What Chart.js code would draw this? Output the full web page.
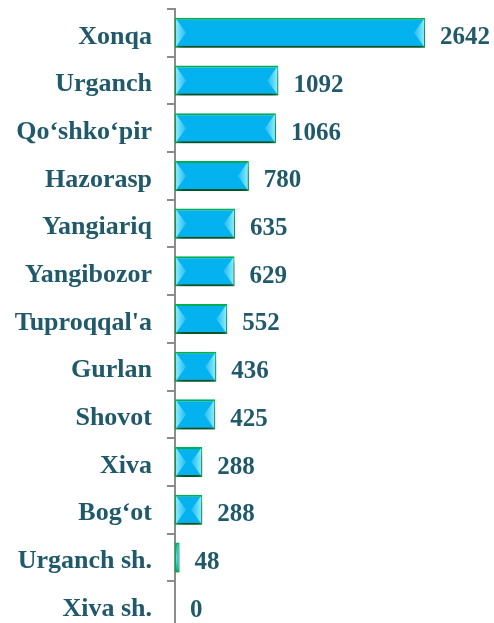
<!DOCTYPE html>
<html>
<head>
<meta charset="utf-8">
<script src="https://cdn.jsdelivr.net/npm/chart.js@4.4.1/dist/chart.umd.min.js"></script>
<style>
  html, body { margin: 0; padding: 0; background: #fff; overflow: hidden; }
  #wrap { width: 494px; height: 640px; position: relative; }
</style>
</head>
<body>
<div id="wrap"><canvas id="js--chart"></canvas></div>
<script>
const districts = [
  'Xonqa', 'Urganch', 'Qo‘shko‘pir', 'Hazorasp', 'Yangiariq', 'Yangibozor',
  "Tuproqqal'a", 'Gurlan', 'Shovot', 'Xiva', 'Bog‘ot', 'Urganch sh.', 'Xiva sh.'
];
const counts = [2642, 1092, 1066, 780, 635, 629, 552, 436, 425, 288, 288, 48, 0];

const textColor = '#1f596a';
const serif = '"Liberation Serif", "Times New Roman", serif';

// shadow under bars
const shadowPlugin = {
  id: 'shadow',
  beforeDatasetsDraw(chart) {
    const ctx = chart.ctx;
    ctx.save();
    ctx.shadowColor = 'rgba(0,0,0,0.55)';
    ctx.shadowBlur = 6;
    ctx.shadowOffsetX = 1;
    ctx.shadowOffsetY = 6;
  },
  afterDatasetsDraw(chart) {
    chart.ctx.restore();
  }
};

// bevel ends + value labels
const bevelPlugin = {
  id: 'bevel',
  afterDatasetsDraw(chart) {
    const ctx = chart.ctx;
    const meta = chart.getDatasetMeta(0);
    ctx.save();
    meta.data.forEach((bar, i) => {
      const top = bar.y - bar.height / 2 + 1;
      const bottom = bar.y + bar.height / 2 - 1;
      const left = bar.base + 1;
      const right = bar.x - 1;
      const w = right - left;
      if (w > 2) {
        const d = Math.min(10, w / 2);
        let g = ctx.createLinearGradient(left, 0, left + d, 0);
        g.addColorStop(0, 'rgba(150,240,255,0.95)');
        g.addColorStop(1, 'rgba(60,200,250,0.6)');
        ctx.fillStyle = g;
        ctx.beginPath();
        ctx.moveTo(left, top);
        ctx.lineTo(left + d, bar.y);
        ctx.lineTo(left, bottom);
        ctx.closePath();
        ctx.fill();
        g = ctx.createLinearGradient(right, 0, right - d, 0);
        g.addColorStop(0, 'rgba(150,240,255,0.95)');
        g.addColorStop(1, 'rgba(60,200,250,0.6)');
        ctx.fillStyle = g;
        ctx.beginPath();
        ctx.moveTo(right, top);
        ctx.lineTo(right - d, bar.y);
        ctx.lineTo(right, bottom);
        ctx.closePath();
        ctx.fill();
      }
      ctx.fillStyle = textColor;
      ctx.font = 'bold 25px ' + serif;
      ctx.textAlign = 'left';
      ctx.textBaseline = 'middle';
      ctx.fillText(String(counts[i]), bar.x + 15, bar.y + 5);
    });
    ctx.restore();
  }
};

new Chart(document.getElementById('js--chart'), {
  type: 'bar',
  data: {
    labels: districts,
    datasets: [{
      data: counts,
      backgroundColor: '#04b2f0',
      borderColor: '#00b050',
      borderWidth: 2,
      borderSkipped: false,
      categoryPercentage: 1,
      barPercentage: 0.63
    }]
  },
  options: {
    indexAxis: 'y',
    responsive: true,
    maintainAspectRatio: false,
    animation: false,
    layout: { padding: { top: 9, bottom: 11, left: 0, right: 35 } },
    plugins: { legend: { display: false }, tooltip: { enabled: false } },
    scales: {
      x: { display: false, min: 0, max: 3000 },
      y: {
        afterFit(scale) {
          scale.width = 175;
          scale.paddingTop = 0;
          scale.paddingBottom = 0;
        },
        border: { color: '#8c8c8c', width: 2 },
        grid: { drawOnChartArea: false, tickLength: 8, color: '#8c8c8c', lineWidth: 2 },
        ticks: { color: textColor, font: { family: serif, size: 26, weight: 'bold' }, padding: 15, labelOffset: 4 }
      }
    }
  },
  plugins: [shadowPlugin, bevelPlugin]
});
</script>
</body>
</html>
